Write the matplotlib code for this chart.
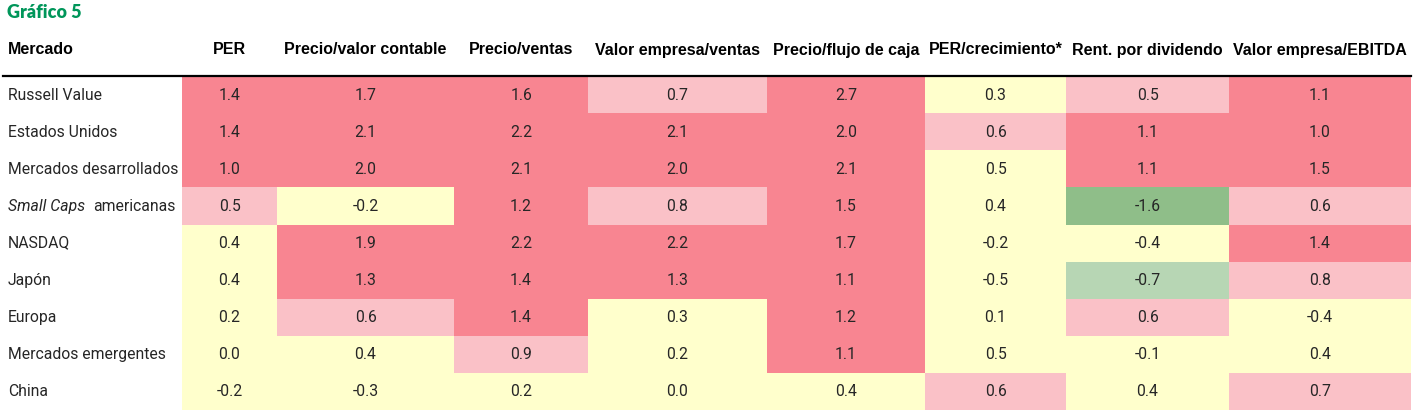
import matplotlib
matplotlib.use("Agg")
import numpy as np
import matplotlib.pyplot as plt
from matplotlib.colors import ListedColormap, BoundaryNorm

# --- data
mercados = ["Russell Value", "Estados Unidos", "Mercados desarrollados",
            "Small Caps americanas", "NASDAQ", "Japón", "Europa",
            "Mercados emergentes", "China"]
metricas = ["PER", "Precio/valor contable", "Precio/ventas",
            "Valor empresa/ventas", "Precio/flujo de caja", "PER/crecimiento*",
            "Rent. por dividendo", "Valor empresa/EBITDA"]

per = [1.4, 1.4, 1.0, 0.5, 0.4, 0.4, 0.2, 0.0, -0.2]
precio_valor_contable = [1.7, 2.1, 2.0, -0.2, 1.9, 1.3, 0.6, 0.4, -0.3]
precio_ventas = [1.6, 2.2, 2.1, 1.2, 2.2, 1.4, 1.4, 0.9, 0.2]
ve_ventas = [0.7, 2.1, 2.0, 0.8, 2.2, 1.3, 0.3, 0.2, 0.0]
precio_flujo_caja = [2.7, 2.0, 2.1, 1.5, 1.7, 1.1, 1.2, 1.1, 0.4]
per_crecimiento = [0.3, 0.6, 0.5, 0.4, -0.2, -0.5, 0.1, 0.5, 0.6]
rent_dividendo = [0.5, 1.1, 1.1, -1.6, -0.4, -0.7, 0.6, -0.1, 0.4]
ve_ebitda = [1.1, 1.0, 1.5, 0.6, 1.4, 0.8, -0.4, 0.4, 0.7]

# colour band of each cell as shown (2 = caro ... -2 = barato)
nivel = [
    [2, 2, 2, 1, 2, 0, 1, 2],
    [2, 2, 2, 2, 2, 1, 2, 2],
    [2, 2, 2, 2, 2, 0, 2, 2],
    [1, 0, 2, 1, 2, 0, -2, 1],
    [0, 2, 2, 2, 2, 0, 0, 2],
    [0, 2, 2, 2, 2, 0, -1, 1],
    [0, 1, 2, 0, 2, 0, 1, 0],
    [0, 0, 1, 0, 2, 0, 0, 0],
    [0, 0, 0, 0, 0, 1, 0, 1],
]

valores = np.column_stack([per, precio_valor_contable, precio_ventas, ve_ventas,
                           precio_flujo_caja, per_crecimiento, rent_dividendo, ve_ebitda])
nivel = np.array(nivel)

# --- layout (pixels)
W, H = 1417, 411
col_edges = [182, 277, 454, 588, 767, 925, 1066, 1229, 1411]
row_top, row_h = 76.5, 37

colores = ListedColormap(["#8FBE89", "#B7D6B4", "#FFFFCC", "#FAC1C7", "#F88591"])
norm = BoundaryNorm([-2.5, -1.5, -0.5, 0.5, 1.5, 2.5], colores.N)

txt = "#262626"
fam_body = ["Roboto", "DejaVu Sans"]
fam_head = ["Liberation Sans", "DejaVu Sans"]
fs_body = 11.3

fig = plt.figure(figsize=(W / 100, H / 100), dpi=100)
ax = fig.add_axes([0, 0, 1, 1])
ax.set_xlim(0, W)
ax.set_ylim(H, 0)
ax.axis("off")

row_edges = [row_top + i * row_h for i in range(len(mercados) + 1)]
ax.pcolormesh(col_edges, row_edges, nivel, cmap=colores, norm=norm)

xc = [(a + b) / 2 for a, b in zip(col_edges[:-1], col_edges[1:])]
yc = [(a + b) / 2 for a, b in zip(row_edges[:-1], row_edges[1:])]

for i in range(len(mercados)):
    for j in range(len(metricas)):
        ax.text(xc[j], yc[i], f"{valores[i, j]:.1f}", ha="center", va="center",
                fontsize=fs_body, color=txt, family=fam_body)

# row labels
for i, m in enumerate(mercados):
    if m.startswith("Small Caps"):
        t = ax.text(8, yc[i], "Small Caps", ha="left", va="center", fontsize=fs_body,
                    color=txt, family=fam_body, style="italic")
        fig.canvas.draw()
        bb = t.get_window_extent()
        x_end = ax.transData.inverted().transform((bb.x1, bb.y0))[0]
        ax.text(x_end + 8, yc[i], m[len("Small Caps"):].strip(), ha="left",
                va="center", fontsize=fs_body, color=txt, family=fam_body)
    else:
        ax.text(8, yc[i], m, ha="left", va="center", fontsize=fs_body,
                color=txt, family=fam_body)

# header
ax.text(8, 50, "Mercado", ha="left", va="center", fontsize=11.5, color="black",
        family=fam_head, weight="bold")
for j, h in enumerate(metricas):
    ax.text(xc[j], 50, h, ha="center", va="center", fontsize=11.5, color="black",
            family=fam_head, weight="bold")
ax.plot([3, 1411], [row_top, row_top], color="black", lw=1.6)

ax.text(7, 12, "Gráfico 5", ha="left", va="center", fontsize=13,
        color="#00965A", family=["Lato", "DejaVu Sans"], weight="heavy")

fig.savefig("out.png", dpi=100)
